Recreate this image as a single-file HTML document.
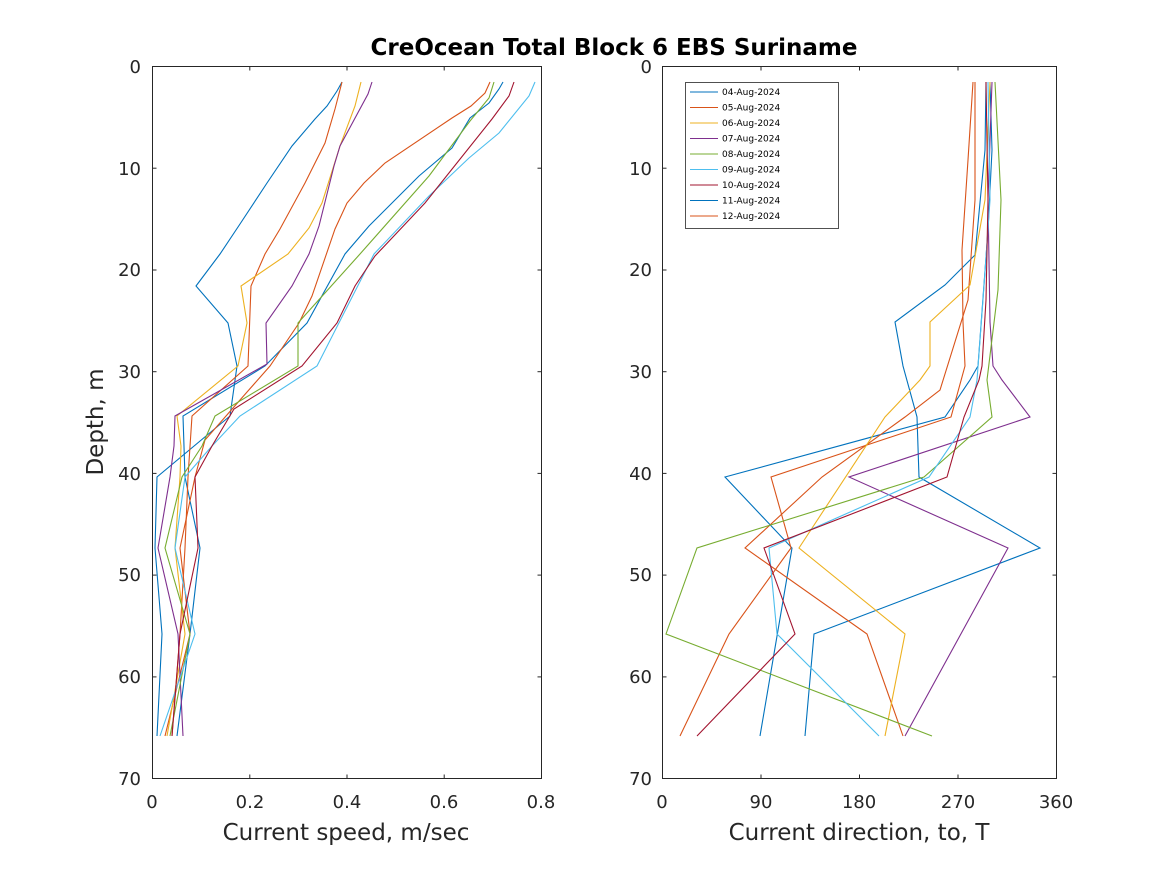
<!DOCTYPE html>
<html><head><meta charset="utf-8"><style>
html,body{margin:0;padding:0;background:#fff}
svg{display:block;font-family:"DejaVu Sans","Liberation Sans",sans-serif}
</style></head><body>
<svg width="1167" height="875" viewBox="0 0 1167 875" xmlns="http://www.w3.org/2000/svg">
<rect width="1167" height="875" fill="#fff"/>
<text x="614" y="55" font-size="23" font-weight="bold" text-anchor="middle" fill="#000">CreOcean Total Block 6 EBS Suriname</text>

<g fill="none" stroke-width="1.1">
<polyline stroke="#0072BD" points="342,82 337,91 327,106 315,119 292,146 267,183 240,224 220,254 196,286 228,323 237,366 230,416 157,477 155,548 162,634 157,736"/>
<polyline stroke="#0072BD" points="503,82 499,89 489,103 470,118 452,148 419,176 369,226 345,254 307,323 265,366 183,416 185,477 200,548 190,634 177,736"/>
<polyline stroke="#D95319" points="342,82 335,109 325,143 305,183 280,229 265,254 251,286 248,366 192,416 188,477 185,548 180,634 172,736"/>
<polyline stroke="#D95319" points="490,82 485,93 471,106 452,118 385,163 364,183 347,203 335,229 312,296 299,323 270,366 240,400 205,440 195,477 180,548 190,634 165,736"/>
<polyline stroke="#EDB120" points="361,82 355,106 340,146 322,203 309,228 288,254 241,286 247,323 238,366 177,416 181,446 180,477 175,548 185,634 167,736"/>
<polyline stroke="#7E2F8E" points="372,82 368,94 340,146 334,166 319,226 309,254 292,286 266,323 267,364 175,416 174,446 170,477 158,548 178,634 183,736"/>
<polyline stroke="#77AC30" points="494,82 489,98 470,121 429,176 360,254 298,323 298,366 215,416 202,446 182,477 165,548 190,634 170,736"/>
<polyline stroke="#4DBEEE" points="535,82 529,96 499,133 469,158 429,196 374,254 317,366 240,416 212,446 185,477 175,548 195,634 160,736"/>
<polyline stroke="#A2142F" points="514,82 509,96 492,119 425,203 375,256 355,286 337,323 302,366 234,409 212,446 195,477 198,548 180,634 172,736"/>
</g>
<rect x="152.5" y="66.5" width="389" height="712" fill="none" stroke="#262626" stroke-width="1"/>
<g stroke="#262626" stroke-width="1">
<line x1="152.5" y1="168.2" x2="156.5" y2="168.2"/><line x1="541.5" y1="168.2" x2="537.5" y2="168.2"/>
<line x1="152.5" y1="270" x2="156.5" y2="270"/><line x1="541.5" y1="270" x2="537.5" y2="270"/>
<line x1="152.5" y1="371.7" x2="156.5" y2="371.7"/><line x1="541.5" y1="371.7" x2="537.5" y2="371.7"/>
<line x1="152.5" y1="473.4" x2="156.5" y2="473.4"/><line x1="541.5" y1="473.4" x2="537.5" y2="473.4"/>
<line x1="152.5" y1="575.1" x2="156.5" y2="575.1"/><line x1="541.5" y1="575.1" x2="537.5" y2="575.1"/>
<line x1="152.5" y1="676.9" x2="156.5" y2="676.9"/><line x1="541.5" y1="676.9" x2="537.5" y2="676.9"/>
<line x1="249.8" y1="66.5" x2="249.8" y2="70.5"/><line x1="249.8" y1="778.5" x2="249.8" y2="774.5"/>
<line x1="347" y1="66.5" x2="347" y2="70.5"/><line x1="347" y1="778.5" x2="347" y2="774.5"/>
<line x1="444.2" y1="66.5" x2="444.2" y2="70.5"/><line x1="444.2" y1="778.5" x2="444.2" y2="774.5"/>
</g>
<g font-size="18" fill="#262626" text-anchor="end">
<text x="141" y="73">0</text><text x="141" y="175">10</text><text x="141" y="276">20</text><text x="141" y="378">30</text><text x="141" y="480">40</text><text x="141" y="581">50</text><text x="141" y="683">60</text><text x="141" y="785">70</text>
</g>
<g font-size="18" fill="#262626" text-anchor="middle">
<text x="152" y="808">0</text><text x="250" y="808">0.2</text><text x="347" y="808">0.4</text><text x="444" y="808">0.6</text><text x="541" y="808">0.8</text>
</g>
<text x="346" y="840" font-size="23" fill="#262626" text-anchor="middle">Current speed, m/sec</text>
<text transform="translate(103,422) rotate(-90)" font-size="23" fill="#262626" text-anchor="middle">Depth, m</text>

<g fill="none" stroke-width="1.1">
<polyline stroke="#0072BD" points="986,82 985,150 975,255 945,285 895,322 903,366 917,417 919,477 1040,548 814,634 805,736"/>
<polyline stroke="#0072BD" points="990,82 992,150 988,230 978,366 970,380 945,417 725,477 792,548 760,736"/>
<polyline stroke="#D95319" points="973,82 968,160 962,250 963,322 965,366 951,417 771,477 791,548 729,634 680,736"/>
<polyline stroke="#D95319" points="975,82 975,200 968,300 940,390 905,417 822,477 745,548 867,634 903,736"/>
<polyline stroke="#EDB120" points="990,82 985,200 970,285 930,322 930,366 920,380 885,417 799,548 905,634 885,736"/>
<polyline stroke="#7E2F8E" points="992,82 988,200 990,322 993,366 1002,380 1030,417 849,477 1008,548 905,736"/>
<polyline stroke="#77AC30" points="995,82 1001,200 998,290 987,380 992,417 924,477 697,548 666,634 932,736"/>
<polyline stroke="#4DBEEE" points="988,82 990,200 983,300 977,380 970,417 929,477 769,548 777,634 879,736"/>
<polyline stroke="#A2142F" points="986,82 988,200 986,300 982,366 979,380 964,417 947,477 764,548 795,634 697,736"/>
</g>
<rect x="662.5" y="66.5" width="394" height="712" fill="none" stroke="#262626" stroke-width="1"/>
<g stroke="#262626" stroke-width="1">
<line x1="662.5" y1="168.2" x2="666.5" y2="168.2"/><line x1="1056.5" y1="168.2" x2="1052.5" y2="168.2"/>
<line x1="662.5" y1="270" x2="666.5" y2="270"/><line x1="1056.5" y1="270" x2="1052.5" y2="270"/>
<line x1="662.5" y1="371.7" x2="666.5" y2="371.7"/><line x1="1056.5" y1="371.7" x2="1052.5" y2="371.7"/>
<line x1="662.5" y1="473.4" x2="666.5" y2="473.4"/><line x1="1056.5" y1="473.4" x2="1052.5" y2="473.4"/>
<line x1="662.5" y1="575.1" x2="666.5" y2="575.1"/><line x1="1056.5" y1="575.1" x2="1052.5" y2="575.1"/>
<line x1="662.5" y1="676.9" x2="666.5" y2="676.9"/><line x1="1056.5" y1="676.9" x2="1052.5" y2="676.9"/>
<line x1="761" y1="66.5" x2="761" y2="70.5"/><line x1="761" y1="778.5" x2="761" y2="774.5"/>
<line x1="859.5" y1="66.5" x2="859.5" y2="70.5"/><line x1="859.5" y1="778.5" x2="859.5" y2="774.5"/>
<line x1="958" y1="66.5" x2="958" y2="70.5"/><line x1="958" y1="778.5" x2="958" y2="774.5"/>
</g>
<g font-size="18" fill="#262626" text-anchor="end">
<text x="652" y="73">0</text><text x="652" y="175">10</text><text x="652" y="276">20</text><text x="652" y="378">30</text><text x="652" y="480">40</text><text x="652" y="581">50</text><text x="652" y="683">60</text><text x="652" y="785">70</text>
</g>
<g font-size="18" fill="#262626" text-anchor="middle">
<text x="662" y="808">0</text><text x="761" y="808">90</text><text x="859" y="808">180</text><text x="958" y="808">270</text><text x="1056" y="808">360</text>
</g>
<text x="859" y="840" font-size="23" fill="#262626" text-anchor="middle">Current direction, to, T</text>

<rect x="685.5" y="82.5" width="153" height="146" fill="#fff" stroke="#262626" stroke-width="0.8"/>
<g font-size="9" fill="#000" stroke-width="1.1">
<line x1="690" y1="92" x2="718" y2="92" stroke="#0072BD"/><text x="722" y="95">04-Aug-2024</text>
<line x1="690" y1="107.5" x2="718" y2="107.5" stroke="#D95319"/><text x="722" y="110.5">05-Aug-2024</text>
<line x1="690" y1="123" x2="718" y2="123" stroke="#EDB120"/><text x="722" y="126">06-Aug-2024</text>
<line x1="690" y1="138.5" x2="718" y2="138.5" stroke="#7E2F8E"/><text x="722" y="141.5">07-Aug-2024</text>
<line x1="690" y1="154" x2="718" y2="154" stroke="#77AC30"/><text x="722" y="157">08-Aug-2024</text>
<line x1="690" y1="169.5" x2="718" y2="169.5" stroke="#4DBEEE"/><text x="722" y="172.5">09-Aug-2024</text>
<line x1="690" y1="185" x2="718" y2="185" stroke="#A2142F"/><text x="722" y="188">10-Aug-2024</text>
<line x1="690" y1="200.5" x2="718" y2="200.5" stroke="#0072BD"/><text x="722" y="203.5">11-Aug-2024</text>
<line x1="690" y1="216" x2="718" y2="216" stroke="#D95319"/><text x="722" y="219">12-Aug-2024</text>
</g>
</svg>
</body></html>
